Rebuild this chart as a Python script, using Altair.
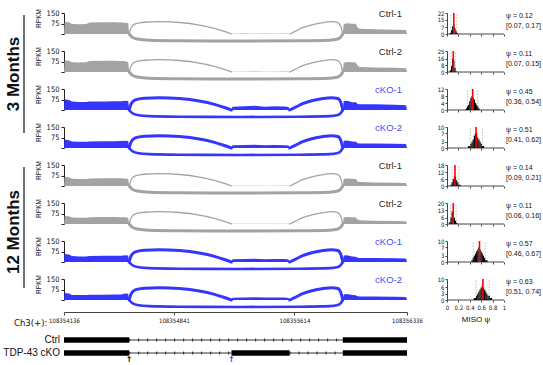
import altair as alt
import pandas as pd

# ---------------- data ----------------
samples = ["Ctrl-1", "Ctrl-2", "cKO-1", "cKO-2", "Ctrl-1", "Ctrl-2", "cKO-1", "cKO-2"]
conditions = ["Ctrl", "Ctrl", "cKO", "cKO", "Ctrl", "Ctrl", "cKO", "cKO"]
group_labels = ["3 Months", "12 Months"]

region_start = 108354136
region_end = 108356336
genomic_ticks = [108354136, 108354841, 108355614, 108356336]
rpkm_ticks = [0, 75, 150]

cov_pos = [
    108354136, 108354140, 108354168, 108354187, 108354232, 108354278, 108354300,
    108354393, 108354458, 108354503, 108354528, 108354548, 108354554,
    108355210, 108355216, 108355294, 108355358, 108355423, 108355487, 108355551,
    108355577, 108355583,
    108355924, 108355930, 108355950, 108355985, 108356008, 108356020, 108356034,
    108356130, 108356259, 108356330, 108356336,
]
coverage = [
    [0, 86, 84, 72, 70, 72, 82, 84, 84, 82, 80, 76, 0, 0, 2, 3, 2, 3, 2, 3, 2, 0, 0, 70, 76, 74, 72, 45, 38, 34, 31, 28, 0],
    [0, 82, 80, 70, 68, 70, 78, 80, 80, 79, 77, 72, 0, 0, 2, 2, 3, 2, 2, 3, 2, 0, 0, 66, 72, 70, 68, 44, 36, 32, 30, 27, 0],
    [0, 76, 72, 60, 58, 58, 60, 61, 62, 63, 66, 64, 0, 0, 24, 26, 30, 24, 26, 25, 22, 0, 0, 64, 66, 56, 55, 42, 41, 41, 38, 34, 0],
    [0, 60, 56, 46, 44, 44, 46, 48, 48, 50, 52, 50, 0, 0, 20, 22, 24, 20, 22, 20, 18, 0, 0, 52, 54, 46, 44, 34, 32, 32, 30, 28, 0],
    [0, 64, 62, 52, 50, 50, 54, 56, 56, 55, 54, 50, 0, 0, 2, 2, 2, 2, 2, 2, 2, 0, 0, 50, 54, 52, 50, 32, 28, 25, 23, 21, 0],
    [0, 58, 56, 46, 44, 44, 48, 50, 50, 49, 48, 45, 0, 0, 1, 2, 2, 2, 1, 2, 1, 0, 0, 46, 50, 48, 46, 30, 26, 24, 22, 20, 0],
    [0, 58, 54, 42, 40, 40, 42, 44, 44, 45, 48, 46, 0, 0, 20, 22, 24, 20, 22, 21, 18, 0, 0, 46, 48, 40, 38, 30, 29, 28, 27, 25, 0],
    [0, 50, 46, 36, 35, 35, 37, 38, 39, 40, 46, 44, 0, 0, 16, 18, 20, 17, 18, 17, 15, 0, 0, 40, 42, 36, 34, 26, 25, 25, 24, 22, 0],
]

arc_ids = ["inclusion-left", "inclusion-right", "skipping"]
arc_pos = [
    [108354554, 108354567, 108354593, 108354651, 108354747, 108354876, 108355004, 108355101, 108355165, 108355210],
    [108355583, 108355622, 108355667, 108355725, 108355789, 108355853, 108355892, 108355911, 108355924],
    [108354554, 108354573, 108354606, 108354683, 108354876, 108355262, 108355648, 108355841, 108355892, 108355911, 108355924],
]
arc_height = [
    [0, 45, 72, 84, 88, 82, 64, 40, 18, 0],
    [0, 20, 45, 66, 80, 88, 82, 55, 0],
    [0, -22, -36, -44, -48, -50, -48, -44, -36, -22, 0],
]
arc_width_inclusion = [1.3, 1.3, 3, 3, 1.3, 1.3, 3, 3]
arc_width_skipping = [3, 3, 2.6, 2.6, 3, 3, 2.6, 2.6]

psi_mean = [0.12, 0.11, 0.45, 0.51, 0.14, 0.11, 0.57, 0.63]
psi_low = [0.07, 0.07, 0.36, 0.41, 0.09, 0.06, 0.46, 0.51]
psi_high = [0.17, 0.15, 0.54, 0.62, 0.21, 0.16, 0.67, 0.74]
hist_ymax = [22, 25, 12, 10, 18, 20, 10, 10]
hist_yticks = [[0, 7, 15, 22], [0, 8, 16, 25], [0, 4, 8, 12], [0, 3, 7, 10],
               [0, 6, 12, 18], [0, 6, 13, 20], [0, 3, 7, 10], [0, 3, 6, 10]]
hist_bins = [
    [0.05, 0.07, 0.09, 0.11, 0.13, 0.15, 0.17],
    [0.05, 0.07, 0.09, 0.11, 0.13, 0.15],
    [0.33, 0.35, 0.37, 0.39, 0.41, 0.43, 0.45, 0.47, 0.49, 0.51, 0.53, 0.55],
    [0.37, 0.39, 0.41, 0.43, 0.45, 0.47, 0.49, 0.51, 0.53, 0.55, 0.57, 0.59, 0.61, 0.63],
    [0.06, 0.08, 0.10, 0.12, 0.14, 0.16, 0.18, 0.20, 0.22],
    [0.04, 0.06, 0.08, 0.10, 0.12, 0.14, 0.16],
    [0.43, 0.45, 0.47, 0.49, 0.51, 0.53, 0.55, 0.57, 0.59, 0.61, 0.63, 0.65, 0.67, 0.69],
    [0.47, 0.49, 0.51, 0.53, 0.55, 0.57, 0.59, 0.61, 0.63, 0.65, 0.67, 0.69, 0.71, 0.73, 0.75, 0.77],
]
hist_counts = [
    [1, 4, 8, 10, 6, 3, 1],
    [2, 7, 16, 14, 5, 1],
    [1, 2, 3, 5, 7, 8, 7, 6, 4, 3, 2, 1],
    [1, 1, 2, 3, 4, 6, 7, 7, 5, 4, 3, 2, 1, 1],
    [1, 3, 6, 8, 8, 5, 3, 1, 1],
    [2, 6, 12, 11, 6, 3, 1],
    [1, 2, 3, 4, 5, 6, 7, 6, 5, 4, 3, 2, 1, 1],
    [1, 1, 2, 3, 4, 5, 6, 7, 6, 5, 4, 3, 2, 2, 1, 1],
]
bin_width = 0.02
psi_ticks = [0, 0.2, 0.4, 0.6, 0.8, 1]

gene_models = ["Ctrl", "TDP-43 cKO"]
exon_model = ["Ctrl", "Ctrl", "TDP-43 cKO", "TDP-43 cKO", "TDP-43 cKO"]
exon_start = [108354136, 108355924, 108354136, 108355210, 108355924]
exon_end = [108354554, 108356336, 108354554, 108355583, 108356336]
intron_model = ["Ctrl", "TDP-43 cKO", "TDP-43 cKO"]
intron_start = [108354554, 108354554, 108355583]
intron_end = [108355924, 108355210, 108355924]
arrow_pos = [108354554, 108355210]
arrow_colors = ["#000000", "#3535ff"]

# ---------------- style / layout ----------------
COLORS = {"Ctrl": "#a3a3a3", "cKO": "#3535ff"}
LABEL_COLORS = {"Ctrl": "#2a2a2a", "cKO": "#4a4aff"}
SANS = "Liberation Sans, Arial, sans-serif"
NARROW = "Liberation Sans Narrow, DejaVu Sans Condensed, Liberation Sans, sans-serif"
TRACK_W = 343
HIST_X0, HIST_X1 = 383, 440          # pixel span of the MISO panel inside each row
ROW_W = 440
ROW_H = 21
ROW_GAP = 17
# the MISO x scale spans the whole row width; its domain is widened on the left
# so that psi 0..1 falls on pixels HIST_X0..HIST_X1
HIST_DOMAIN_MIN = -HIST_X0 / (HIST_X1 - HIST_X0)
HIST_DOMAIN_MAX = (ROW_W - HIST_X0) / (HIST_X1 - HIST_X0)


def row_chart(i):
    cond = conditions[i]
    color = COLORS[cond]
    last = i == len(samples) - 1

    xs = alt.Scale(domain=[region_start, region_end], range=[0, TRACK_W], nice=False, zero=False, padding=0)
    ys = alt.Scale(domain=[0, 150], nice=False, zero=False, padding=0)
    if last:
        xaxis = alt.Axis(orient="bottom", values=genomic_ticks, format="d", offset=12,
                         tickSize=3, labelFontSize=6, labelPadding=2, labelFont=NARROW,
                         labelFlush=False,
                         title="Ch3(+):", titleFontSize=9.5, titleFontWeight="normal",
                         titleAlign="right", titleBaseline="middle", titleX=-17, titleY=10,
                         titleFont=NARROW, domainColor="#444", tickColor="#444")
    else:
        xaxis = None
    yaxis = alt.Axis(orient="left", values=rpkm_ticks,
                     labelExpr="datum.value == 0 ? '' : datum.label",
                     tickSize=3, labelFontSize=7.5, labelPadding=2, labelFont=NARROW,
                     title="RPKM", titleFontSize=6.5, titleFontWeight="normal", titleFont=SANS,
                     titlePadding=5, titleAlign="center", titleY=5)

    def X(f):
        return alt.X(f, type="quantitative", scale=xs, axis=xaxis)

    def Y(f):
        return alt.Y(f, type="quantitative", scale=ys, axis=yaxis)

    cov_df = pd.DataFrame({"pos": cov_pos, "rpkm": coverage[i]})
    rows = []
    for j, aid in enumerate(arc_ids):
        w = arc_width_skipping[i] if aid == "skipping" else arc_width_inclusion[i]
        for p, h in zip(arc_pos[j], arc_height[j]):
            rows.append({"arc": aid, "pos": p, "rpkm": h, "w": w})
    arc_df = pd.DataFrame(rows)
    lab_df = pd.DataFrame({"pos": [region_end], "rpkm": [150], "sample": [samples[i]]})

    area = alt.Chart(cov_df).mark_area(color=color, opacity=1).encode(x=X("pos"), y=Y("rpkm"))
    arcs = alt.Chart(arc_df).mark_line(color=color, interpolate="monotone", strokeCap="round").encode(
        x=X("pos"), y=Y("rpkm"), detail="arc:N",
        strokeWidth=alt.StrokeWidth("w:Q", scale=None))
    label = alt.Chart(lab_df).mark_text(align="right", baseline="middle", dx=-5, dy=1,
                                        fontSize=9.5, color=LABEL_COLORS[cond]).encode(
        x=X("pos"), y=Y("rpkm"), text="sample:N")
    track_layers = [area, arcs, label]

    if i in (0, 4):
        g = 0 if i == 0 else 1
        gdf = pd.DataFrame({"group": [group_labels[g]]})
        ty = 61 if g == 0 else 67
        ly = (2, 120) if g == 0 else (2, 123)
        gtext = alt.Chart(gdf).mark_text(angle=270, fontSize=17, fontWeight="bold",
                                         align="center", baseline="middle", color="#111").encode(
            x=alt.value(-50), y=alt.value(ty), text="group:N")
        gline = alt.Chart(gdf).mark_rule(color="#111", strokeWidth=1.2).encode(
            x=alt.value(-40), y=alt.value(ly[0]), y2=alt.value(ly[1]))
        track_layers += [gtext, gline]

    track = alt.layer(*track_layers)

    # ---- MISO histogram ----
    hx = alt.Scale(domain=[HIST_DOMAIN_MIN, HIST_DOMAIN_MAX], nice=False, zero=False, padding=0)
    hy = alt.Scale(domain=[0, hist_ymax[i]], nice=False, zero=False, padding=0)
    hxaxis = alt.Axis(orient="bottom", values=psi_ticks, format="~g", labels=last, domain=False,
                      tickSize=2, labelFontSize=6, labelPadding=2, labelFont=NARROW,
                      labelFlush=False,
                      title="MISO ψ" if last else "", titleFontSize=8, titleFontWeight="normal",
                      titleFont=SANS, titlePadding=5, titleX=(HIST_X0 + HIST_X1) / 2,
                      titleAnchor="start", titleAlign="center", tickColor="#444")
    hyaxis = alt.Axis(orient="left", offset=-HIST_X0, values=hist_yticks[i], tickSize=2,
                      labelFontSize=6, labelPadding=1, labelFont=NARROW, labelOverlap=False,
                      labelBaseline="middle", title="",
                      domainColor="#444", tickColor="#444")

    def HX(f):
        return alt.X(f, type="quantitative", scale=hx, axis=hxaxis)

    def HY(f):
        return alt.Y(f, type="quantitative", scale=hy, axis=hyaxis)

    hb = pd.DataFrame({"b0": hist_bins[i], "n": hist_counts[i]})
    hb["b1"] = hb["b0"] + bin_width
    hb["base"] = 0
    base_df = pd.DataFrame({"p0": [psi_ticks[0]], "p1": [psi_ticks[-1]], "y0": [0]})
    ci_df = pd.DataFrame({"ci": [psi_low[i], psi_high[i]], "y0": [0, 0], "y1": [hist_ymax[i]] * 2})
    mean_df = pd.DataFrame({"psi": [psi_mean[i]], "y0": [0], "y1": [hist_ymax[i]]})
    txt_df = pd.DataFrame({"xt": [psi_ticks[-1]],
                           "t1": [f"ψ = {psi_mean[i]:.2f}"],
                           "t2": [f"[{psi_low[i]:.2f}, {psi_high[i]:.2f}]"]})

    baseline = alt.Chart(base_df).mark_rule(color="#444", strokeWidth=1).encode(
        x=HX("p0"), x2="p1:Q", y=HY("y0"))
    ci = alt.Chart(ci_df).mark_rule(color="#b0b0b0", strokeWidth=0.8, strokeDash=[1.5, 1.5]).encode(
        x=HX("ci"), y=HY("y0"), y2="y1:Q")
    bars = alt.Chart(hb).mark_rect(color="#000000").encode(
        x=HX("b0"), x2="b1:Q", y=HY("n"), y2="base:Q")
    mean = alt.Chart(mean_df).mark_rule(color="#ff0000", strokeWidth=1.6).encode(
        x=HX("psi"), y=HY("y0"), y2="y1:Q")
    t1 = alt.Chart(txt_df).mark_text(align="left", baseline="middle", dx=2, fontSize=7,
                                     color="#111").encode(x=HX("xt"), y=alt.value(3), text="t1:N")
    t2 = alt.Chart(txt_df).mark_text(align="left", baseline="middle", dx=2, fontSize=7,
                                     color="#111").encode(x=HX("xt"), y=alt.value(13), text="t2:N")
    hist = alt.layer(baseline, ci, bars, mean, t1, t2)

    return alt.layer(track, hist).resolve_scale(x="independent", y="independent").properties(
        width=ROW_W, height=ROW_H)


rows = [row_chart(i) for i in range(len(samples))]

# ---- gene models ----
gx = alt.Scale(domain=[region_start, region_end], nice=False, zero=False, padding=0)
gy = alt.Scale(type="point", domain=gene_models, range=[23, 36], padding=0)


def GX(f):
    return alt.X(f, type="quantitative", scale=gx, axis=None)


def GY(f):
    return alt.Y(f, type="nominal", scale=gy, axis=None)


intron_df = pd.DataFrame({"model": intron_model, "start": intron_start, "end": intron_end})
exon_df = pd.DataFrame({"model": exon_model, "start": exon_start, "end": exon_end})
glab_df = pd.DataFrame({"model": gene_models, "start": [region_start] * len(gene_models)})
arrow_df = pd.DataFrame({"model": ["TDP-43 cKO"] * len(arrow_pos), "start": arrow_pos, "c": arrow_colors})

intron_line = alt.Chart(intron_df).mark_rule(color="#000", strokeWidth=0.8).encode(
    x=GX("start"), x2="end:Q", y=GY("model"))
intron_ticks = alt.Chart(intron_df).mark_rule(color="#000", strokeWidth=3, strokeDash=[1, 8],
                                              strokeCap="butt", opacity=0.8).encode(
    x=GX("start"), x2="end:Q", y=GY("model"))
exons = alt.Chart(exon_df).mark_rule(color="#000", strokeWidth=5.5, strokeCap="butt").encode(
    x=GX("start"), x2="end:Q", y=GY("model"))
glabels = alt.Chart(glab_df).mark_text(align="right", baseline="middle", dx=-4, fontSize=10,
                                       color="#111").encode(x=GX("start"), y=GY("model"), text="model:N")
arrows = alt.Chart(arrow_df).mark_text(text="↑", fontSize=8, fontWeight="bold", dy=7,
                                       font="DejaVu Sans").encode(
    x=GX("start"), y=GY("model"), fill=alt.Fill("c:N", scale=None))
gene = alt.layer(intron_line, intron_ticks, exons, glabels, arrows).properties(width=TRACK_W, height=44)

chart = alt.vconcat(*rows, gene, spacing=ROW_GAP, bounds="flush").properties(
    padding={"left": 3, "top": 8, "right": 0, "bottom": 0}
).configure_view(strokeWidth=0).configure_axis(
    grid=False, domainColor="#222", tickColor="#222", labelColor="#111", titleColor="#111"
).configure_text(font=SANS)

chart.save("out.html", embed_options={"renderer": "svg", "actions": False})
